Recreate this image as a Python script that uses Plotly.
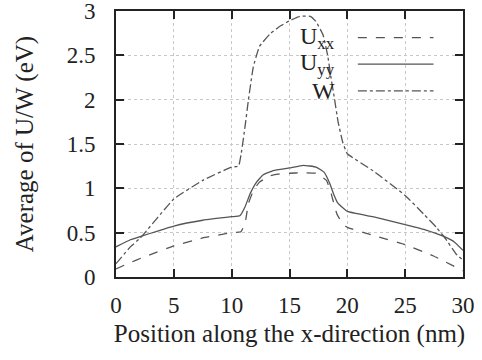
import plotly.graph_objects as go

# Data
x_uxx = [0, 1, 2.4, 5, 7.5, 10, 10.8, 11.15, 11.45, 11.9, 12.4, 13.3, 14, 15, 16, 17.3, 18.2, 18.6, 19.1, 19.6, 20, 22.2, 25, 27.4, 30]
uxx = [0.09, 0.15, 0.225, 0.35, 0.44, 0.5, 0.51, 0.6, 0.83, 0.98, 1.07, 1.14, 1.16, 1.17, 1.175, 1.17, 1.09, 0.94, 0.71, 0.6, 0.56, 0.47, 0.365, 0.24, 0.07]

x_uyy = [0, 1.24, 2.4, 5, 7.5, 10, 10.7, 11.15, 11.6, 12.15, 12.7, 13.6, 15, 16.2, 17.3, 18, 18.5, 18.8, 19.2, 20, 22.2, 25, 26.8, 28.3, 29.3, 30]
uyy = [0.34, 0.42, 0.47, 0.575, 0.64, 0.68, 0.69, 0.79, 0.94, 1.07, 1.15, 1.2, 1.23, 1.26, 1.24, 1.18, 1.05, 0.94, 0.83, 0.74, 0.68, 0.59, 0.53, 0.46, 0.39, 0.3]

x_w = [0, 1.24, 2.1, 5, 7.5, 10, 10.6, 10.87, 11.15, 11.44, 11.87, 12.4, 13.3, 14.2, 15, 15.9, 16.8, 17.3, 17.9, 18.3, 18.6, 18.9, 19.2, 19.6, 20, 22.2, 25, 26.6, 27.7, 28.5, 29.4, 30]
w = [0.15, 0.34, 0.44, 0.88, 1.09, 1.24, 1.25, 1.43, 1.69, 1.99, 2.37, 2.6, 2.74, 2.83, 2.89, 2.94, 2.94, 2.88, 2.73, 2.5, 2.24, 2.0, 1.75, 1.52, 1.39, 1.2, 0.92, 0.71, 0.56, 0.43, 0.26, 0.19]

x_ticks = [0, 5, 10, 15, 20, 25, 30]
y_ticks = [0, 0.5, 1, 1.5, 2, 2.5, 3]
y_tick_labels = ["0", "0.5", "1", "1.5", "2", "2.5", "3"]

series_names = ["U<sub>xx</sub>", "U<sub>yy</sub>", "W"]
series_dash = ["dash", "solid", "dashdot"]

FONT = "Liberation Serif"
LC = "#555555"
TC = "#222222"

fig = go.Figure()
for xs, ys, name, dash in zip([x_uxx, x_uyy, x_w], [uxx, uyy, w], series_names, series_dash):
    fig.add_trace(go.Scatter(x=xs, y=ys, mode="lines", name=name,
                             line=dict(color=LC, width=1.3, dash=dash, shape="spline", smoothing=0.3),
                             showlegend=False))

# gnuplot-style key: label then sample line
rows_y = [0.9, 0.8, 0.7]
for name, dash, yy in zip(series_names, series_dash, rows_y):
    fig.add_annotation(xref="paper", yref="paper", x=0.638, y=yy, text=name,
                       showarrow=False, xanchor="right", yanchor="middle",
                       font=dict(family=FONT, size=24, color=TC))
    fig.add_shape(type="line", xref="paper", yref="paper", x0=0.697, x1=0.915, y0=yy, y1=yy,
                  line=dict(color=LC, width=1.3, dash=dash))

axis_common = dict(showline=True, linecolor=TC, linewidth=2, mirror="allticks",
                   ticks="inside", ticklen=8, tickwidth=1.5, tickcolor=TC,
                   showgrid=True, gridcolor="#c8c8c8", griddash="dot", gridwidth=1,
                   zeroline=False, automargin=False, ticklabeloverflow="allow",
                   tickfont=dict(family=FONT, size=23, color=TC))

fig.update_xaxes(range=[0, 30], tickvals=x_ticks, ticklabelstandoff=6,
                 title=dict(text="Position along the x-direction (nm)", standoff=8,
                            font=dict(family=FONT, size=25, color=TC)),
                 **axis_common)
fig.update_yaxes(range=[0, 3], tickvals=y_ticks, ticktext=y_tick_labels, ticklabelstandoff=14,
                 title=dict(text="Average of U/W (eV)", standoff=26,
                            font=dict(family=FONT, size=25, color=TC)),
                 **axis_common)

fig.update_layout(width=482, height=360, margin=dict(l=116, r=19, t=11, b=83),
                  plot_bgcolor="white", paper_bgcolor="white")

fig.write_html("out.html", config={"displayModeBar": False},
               post_script="document.body.style.margin='0';")
